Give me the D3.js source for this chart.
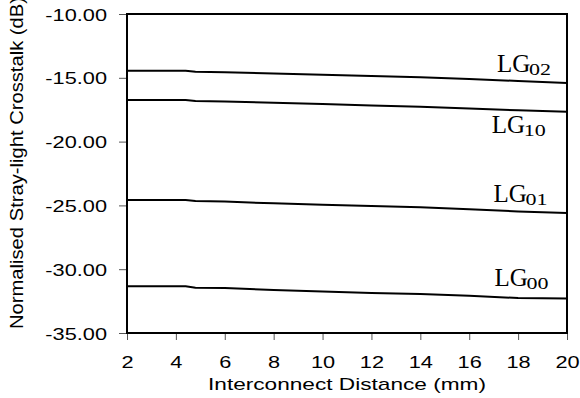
<!DOCTYPE html>
<html>
<head>
<meta charset="utf-8">
<script src="https://cdn.jsdelivr.net/npm/d3@7"></script>
<style>
  body { margin: 0; background: #fff; }
  svg { display: block; }
</style>
</head>
<body>
<div id="chart"></div>
<script>
// interconnect distance (mm)
const distance = [2, 4.4, 4.8, 6, 8, 10, 12, 14, 16, 18, 20];
// normalised stray-light crosstalk (dB) per mode group
const lg02 = [-14.44, -14.44, -14.53, -14.57, -14.66, -14.76, -14.86, -14.95, -15.09, -15.25, -15.40];
const lg10 = [-16.74, -16.74, -16.82, -16.85, -16.95, -17.06, -17.17, -17.26, -17.40, -17.55, -17.66];
const lg01 = [-24.58, -24.58, -24.66, -24.70, -24.84, -24.95, -25.05, -25.14, -25.30, -25.47, -25.60];
const lg00 = [-31.34, -31.34, -31.45, -31.47, -31.63, -31.75, -31.86, -31.94, -32.08, -32.26, -32.30];
const seriesNames = ["02", "10", "01", "00"];
// label anchor (start of "LG") in data units
const labelX = [17.14, 16.92, 16.99, 17.03];
const labelY = [-14.57, -19.30, -24.71, -31.32];
const xTicks = [2, 4, 6, 8, 10, 12, 14, 16, 18, 20];
const yTicks = [-35, -30, -25, -20, -15, -10];

const width = 580, height = 398;
const margin = { top: 14, right: 13, bottom: 65, left: 127 };
const innerW = width - margin.left - margin.right;
const innerH = height - margin.top - margin.bottom;

const svg = d3.select("#chart").append("svg")
  .attr("width", width)
  .attr("height", height);

const g = svg.append("g")
  .attr("transform", "translate(" + margin.left + "," + margin.top + ")");

const x = d3.scaleLinear().domain([2, 20]).range([0, innerW]);
const y = d3.scaleLinear().domain([-35, -10]).range([innerH, 0]);

// x axis
const xAxis = g.append("g")
  .attr("transform", "translate(0," + innerH + ")")
  .call(d3.axisBottom(x).tickValues(xTicks).tickSize(7).tickPadding(0).tickFormat(d => String(d)));
xAxis.select(".domain").remove();
xAxis.selectAll("line").attr("stroke", "#555");
xAxis.selectAll("text")
  .attr("font-family", "Liberation Sans, Arial, sans-serif")
  .attr("font-size", 17)
  .attr("fill", "#000")
  .attr("dy", null)
  .attr("y", 35)
  .attr("transform", "scale(1.28,1)");

// y axis (plain hyphen minus like the original)
const yAxis = g.append("g")
  .call(d3.axisLeft(y).tickValues(yTicks).tickSize(8).tickPadding(0).tickFormat(d => d.toFixed(2)));
yAxis.select(".domain").remove();
yAxis.selectAll("line").attr("stroke", "#555");
yAxis.selectAll("text")
  .attr("font-family", "Liberation Sans, Arial, sans-serif")
  .attr("font-size", 16)
  .attr("fill", "#000")
  .attr("x", 0)
  .attr("dy", null)
  .attr("y", 6)
  .attr("transform", "translate(-20,0) scale(1.36,1)");

// frame
g.append("rect")
  .attr("x", 0).attr("y", 0)
  .attr("width", innerW).attr("height", innerH)
  .attr("fill", "none")
  .attr("stroke", "#000")
  .attr("stroke-width", 2);

// lines
const allSeries = [lg02, lg10, lg01, lg00];
const line = d3.line()
  .x((d, i) => x(distance[i]))
  .y(d => y(d));

g.selectAll(".series")
  .data(allSeries)
  .enter()
  .append("path")
  .attr("class", "series")
  .attr("d", line)
  .attr("fill", "none")
  .attr("stroke", "#000")
  .attr("stroke-width", 2);

// mode group labels
const labels = g.selectAll(".lg")
  .data(seriesNames)
  .enter()
  .append("g")
  .attr("class", "lg")
  .attr("transform", (d, i) => "translate(" + x(labelX[i]) + "," + y(labelY[i]) + ")");
labels.append("text")
  .attr("font-family", "Liberation Serif, Times New Roman, serif")
  .attr("font-size", 25)
  .attr("fill", "#000")
  .text("LG");
labels.append("text")
  .attr("x", 32)
  .attr("y", 3)
  .attr("font-family", "Liberation Serif, Times New Roman, serif")
  .attr("font-size", 17)
  .attr("textLength", 22)
  .attr("lengthAdjust", "spacingAndGlyphs")
  .attr("fill", "#000")
  .text(d => d);

// axis titles
svg.append("text")
  .attr("x", margin.left + innerW / 2)
  .attr("y", 390)
  .attr("text-anchor", "middle")
  .attr("font-family", "Liberation Sans, Arial, sans-serif")
  .attr("font-size", 17)
  .attr("textLength", 278)
  .attr("lengthAdjust", "spacingAndGlyphs")
  .attr("fill", "#000")
  .text("Interconnect Distance (mm)");

svg.append("text")
  .attr("transform", "translate(23,329) rotate(-90)")
  .attr("text-anchor", "start")
  .attr("font-family", "Liberation Sans, Arial, sans-serif")
  .attr("font-size", 18)
  .attr("textLength", 332)
  .attr("lengthAdjust", "spacingAndGlyphs")
  .attr("fill", "#000")
  .text("Normalised Stray-light Crosstalk (dB)");
</script>
</body>
</html>
